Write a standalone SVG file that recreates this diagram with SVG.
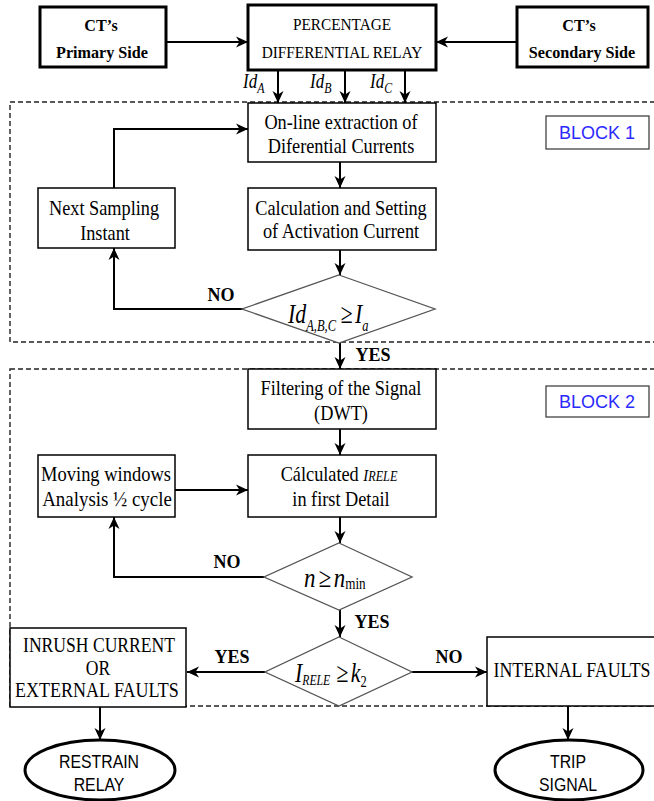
<svg xmlns="http://www.w3.org/2000/svg" width="654" height="801" viewBox="0 0 654 801">
<style>
.box{fill:#fff;stroke:#000;stroke-width:1.5}
.thick{fill:#fff;stroke:#000;stroke-width:3}
.dia{fill:#fff;stroke:#555;stroke-width:1.3}
.dash{fill:none;stroke:#222;stroke-width:1.4;stroke-dasharray:5 3}
.lbl{fill:#fff;stroke:#333;stroke-width:1.2}
.ell{fill:#fff;stroke:#000;stroke-width:3}
.c{fill:none;stroke:#000;stroke-width:2}
.t{font-family:"Liberation Serif",serif;font-size:21px;text-anchor:middle;fill:#000}
.cap{font-size:17px}
.hb{font-family:"Liberation Serif",serif;font-size:17px;font-weight:bold;text-anchor:middle;fill:#000}
.yn{font-family:"Liberation Serif",serif;font-size:18px;font-weight:bold;text-anchor:middle;fill:#000}
.uc{font-family:"Liberation Serif",serif;font-size:20px;text-anchor:middle;fill:#000}
.m{font-family:"Liberation Serif",serif;font-style:italic;font-size:28px;fill:#000}
.id{font-family:"Liberation Serif",serif;font-style:italic;font-size:20px;fill:#000}
.s{font-family:"Liberation Sans",sans-serif;font-size:18px;text-anchor:middle;fill:#000}
.blk{font-family:"Liberation Sans",sans-serif;font-size:18px;text-anchor:middle;fill:#2a2aff}
</style>
<defs>
<marker id="ah" markerUnits="userSpaceOnUse" markerWidth="12" markerHeight="12" refX="12" refY="6" orient="auto">
<path d="M0,0.5 L12,6 L0,11.5 L3.5,6 Z" fill="#000"/>
</marker>
</defs>

<g id="blocks">
<rect class="dash" x="10" y="102" width="660" height="240"/>
<rect class="dash" x="10" y="369" width="660" height="337"/>
</g>

<g id="connectors">
<line class="c" x1="166" y1="42" x2="248" y2="42" marker-end="url(#ah)"/>
<line class="c" x1="517" y1="42" x2="436" y2="42" marker-end="url(#ah)"/>
<line class="c" x1="278" y1="70" x2="278" y2="103" marker-end="url(#ah)"/>
<line class="c" x1="345" y1="70" x2="345" y2="103" marker-end="url(#ah)"/>
<line class="c" x1="405" y1="70" x2="405" y2="103" marker-end="url(#ah)"/>
<line class="c" x1="340" y1="162" x2="340" y2="188" marker-end="url(#ah)"/>
<polyline class="c" points="114,188 114,129 248,129" marker-end="url(#ah)"/>
<line class="c" x1="340" y1="250" x2="340" y2="275" marker-end="url(#ah)"/>
<polyline class="c" points="243,309 114,309 114,248" marker-end="url(#ah)" stroke-width="2.5"/>
<line class="c" x1="340" y1="343" x2="340" y2="369" marker-end="url(#ah)"/>
<line class="c" x1="340" y1="429" x2="340" y2="455" marker-end="url(#ah)"/>
<line class="c" x1="175" y1="490" x2="248" y2="490" marker-end="url(#ah)"/>
<line class="c" x1="340" y1="517" x2="340" y2="543" marker-end="url(#ah)"/>
<polyline class="c" points="264,577 114,577 114,517" marker-end="url(#ah)"/>
<line class="c" x1="340" y1="610" x2="340" y2="637" marker-end="url(#ah)"/>
<line class="c" x1="265" y1="672" x2="187" y2="672" marker-end="url(#ah)"/>
<line class="c" x1="412" y1="672" x2="487" y2="672" marker-end="url(#ah)"/>
<line class="c" x1="100" y1="707" x2="100" y2="740" marker-end="url(#ah)"/>
<line class="c" x1="568" y1="706" x2="568" y2="740" marker-end="url(#ah)"/>
</g>

<g id="labels">
<text class="id" transform="translate(243 88) scale(0.85 1)">Id<tspan dy="5" font-size="14">A</tspan></text>
<text class="id" transform="translate(310 88) scale(0.85 1)">Id<tspan dy="5" font-size="14">B</tspan></text>
<text class="id" transform="translate(370 88) scale(0.85 1)">Id<tspan dy="5" font-size="14">C</tspan></text>
<text class="yn" x="221" y="301">NO</text>
<text class="yn" x="373" y="361">YES</text>
<text class="yn" x="227" y="568">NO</text>
<text class="yn" x="372" y="628">YES</text>
<text class="yn" x="232" y="663">YES</text>
<text class="yn" x="449" y="663">NO</text>
</g>

<g id="ct-primary">
<rect class="thick" x="40" y="7" width="126" height="60"/>
<text class="hb" transform="translate(101 31) scale(0.95 1)">CT’s</text>
<text class="hb" transform="translate(102 58) scale(0.95 1)">Primary Side</text>
</g>
<g id="relay">
<rect class="thick" x="248" y="5" width="188" height="65"/>
<text class="t cap" transform="translate(342 30) scale(0.9 1)">PERCENTAGE</text>
<text class="t cap" transform="translate(342 58) scale(0.9 1)">DIFFERENTIAL RELAY</text>
</g>
<g id="ct-secondary">
<rect class="thick" x="517" y="7" width="131" height="60"/>
<text class="hb" transform="translate(579 31) scale(0.95 1)">CT’s</text>
<text class="hb" transform="translate(582 58) scale(0.95 1)">Secondary Side</text>
</g>

<g id="online">
<rect class="box" x="248" y="103" width="188" height="59"/>
<text class="t" transform="translate(341 129) scale(0.87 1)">On-line extraction of</text>
<text class="t" transform="translate(341 153) scale(0.87 1)">Diferential Currents</text>
</g>
<g id="block1-label">
<rect class="lbl" x="546" y="116" width="103" height="33"/>
<text class="blk" x="597" y="139">BLOCK 1</text>
</g>
<g id="calc">
<rect class="box" x="248" y="188" width="188" height="62"/>
<text class="t" transform="translate(341 215) scale(0.87 1)">Calculation and Setting</text>
<text class="t" transform="translate(341 238) scale(0.87 1)">of Activation Current</text>
</g>
<g id="next">
<rect class="box" x="38" y="188" width="137" height="60"/>
<text class="t" transform="translate(104 215) scale(0.87 1)">Next Sampling</text>
<text class="t" transform="translate(105 240) scale(0.87 1)">Instant</text>
</g>
<g id="dec1">
<polygon class="dia" points="339,275 435,309 339,343 242,309"/>
<text class="m" transform="translate(288 323) scale(0.78 1)">Id<tspan dy="8" font-size="16">A,B,C</tspan><tspan dy="-8" dx="6" font-style="normal">≥</tspan><tspan dx="3">I</tspan><tspan dy="8" font-size="16">a</tspan></text>
</g>

<g id="filter">
<rect class="box" x="248" y="369" width="188" height="60"/>
<text class="t" transform="translate(341 395) scale(0.87 1)">Filtering of the Signal</text>
<text class="t" transform="translate(341 420) scale(0.87 1)">(DWT)</text>
</g>
<g id="block2-label">
<rect class="lbl" x="546" y="386" width="103" height="31"/>
<text class="blk" x="597" y="408">BLOCK 2</text>
</g>
<g id="calculated">
<rect class="box" x="248" y="455" width="188" height="62"/>
<text class="t" transform="translate(339 481) scale(0.87 1)">Cálculated <tspan font-style="italic" font-size="17">I</tspan><tspan font-style="italic" font-size="14">RELE</tspan></text>
<text class="t" transform="translate(341 506) scale(0.87 1)">in first Detail</text>
</g>
<g id="moving">
<rect class="box" x="38" y="455" width="137" height="62"/>
<text class="t" transform="translate(106 481) scale(0.88 1)">Moving windows</text>
<text class="t" transform="translate(107 506) scale(0.9 1)">Analysis ½ cycle</text>
</g>
<g id="dec2">
<polygon class="dia" points="339,543 412,577 339,610 264,577"/>
<text class="m" transform="translate(304 587) scale(0.82 1)">n<tspan dx="4" font-style="normal">≥</tspan><tspan dx="3">n</tspan><tspan dy="2" font-style="normal" font-size="16">min</tspan></text>
</g>
<g id="dec3">
<polygon class="dia" points="339,637 412,672 339,706 265,672"/>
<text class="m" transform="translate(295 682) scale(0.78 1)">I<tspan dy="3" font-size="15">RELE</tspan><tspan dy="-3" dx="8" font-style="normal">≥</tspan><tspan dx="3">k</tspan><tspan dy="5" font-style="normal" font-size="16">2</tspan></text>
</g>
<g id="inrush">
<rect class="box" x="10" y="628" width="176" height="79"/>
<text class="uc" transform="translate(99 652) scale(0.88 1)">INRUSH CURRENT</text>
<text class="uc" transform="translate(98 675) scale(0.88 1)">OR</text>
<text class="uc" transform="translate(97 697) scale(0.9 1)">EXTERNAL FAULTS</text>
</g>
<g id="internal">
<rect class="box" x="487" y="637" width="180" height="69"/>
<text class="uc" transform="translate(572 677) scale(0.89 1)">INTERNAL FAULTS</text>
</g>
<g id="restrain">
<ellipse class="ell" cx="100" cy="770" rx="75" ry="30"/>
<text class="s" transform="translate(99 768) scale(0.88 1)">RESTRAIN</text>
<text class="s" transform="translate(99 791) scale(0.88 1)">RELAY</text>
</g>
<g id="trip">
<ellipse class="ell" cx="569" cy="770" rx="74" ry="30"/>
<text class="s" transform="translate(568 768) scale(0.88 1)">TRIP</text>
<text class="s" transform="translate(568 791) scale(0.88 1)">SIGNAL</text>
</g>
</svg>
